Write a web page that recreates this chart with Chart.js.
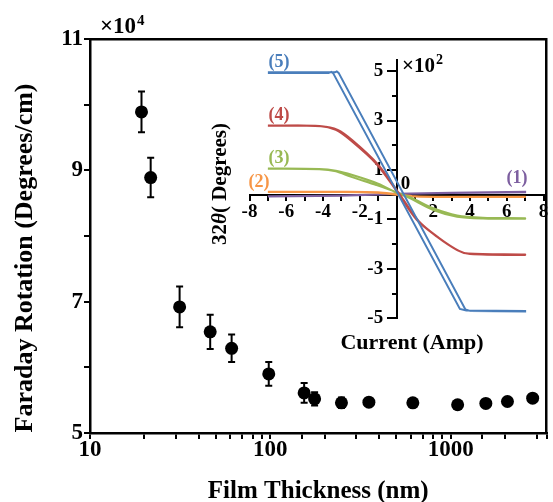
<!DOCTYPE html>
<html><head><meta charset="utf-8">
<script src="https://cdn.jsdelivr.net/npm/chart.js@4.4.1/dist/chart.umd.min.js"></script>
<style>
html,body{margin:0;padding:0;background:#fff;}
#wrap{position:relative;width:553px;height:502px;background:#fff;}
#wrap canvas{position:absolute;left:0;top:0;}
</style></head><body>
<div id="wrap"><canvas id="main" width="553" height="502"></canvas><canvas id="inset" width="553" height="502"></canvas></div>
<script>
// ---------- main plot data (rotation in units of 10^4 deg/cm) ----------
const thickness   = [19.3, 21.7, 31.4, 46.4, 61, 98, 154, 176, 248, 352, 617, 1093, 1567, 2065, 2849];
const rotation    = [9.89, 8.89, 6.92, 6.54, 6.29, 5.90, 5.61, 5.52, 5.46, 5.47, 5.46, 5.43, 5.45, 5.48, 5.53];
const rotationErr = [0.31, 0.30, 0.31, 0.26, 0.21, 0.18, 0.15, 0.10, 0.08, 0.04, 0.04, 0.04, 0.04, 0.04, 0.04];
const mainXLabels = [10, 100, 1000];
const mainYLabels = [5, 7, 9, 11];

// ---------- inset data: current (Amp) vs 2θ (units of 10^2 degrees); each loop = down sweep then return sweep ----------
const loop5Current = [-7, -3.7, -3.55, -3.45, 3.45, 3.8, 7,   7, 4.0, 3.75, -3.15, -3.25, -3.35, -7];
const loop5Angle   = [4.92, 4.92, 4.97, 4.92, -4.62, -4.68, -4.70,   -4.72, -4.70, -4.64, 4.93, 4.99, 4.95, 4.95];
const loop4Current = [-7, -4.2, -3.3, -2.5, -1.1, 0, 1.1, 2.2, 3.3, 3.9, 7,   7, 4.0, 3.4, 2.3, 1.2, 0.1, -1.0, -2.4, -3.2, -4.1, -7];
const loop4Angle   = [2.79, 2.78, 2.62, 2.20, 1.25, 0.15, -1.02, -1.70, -2.24, -2.38, -2.42,   -2.44, -2.40, -2.27, -1.74, -1.06, 0.10, 1.22, 2.20, 2.62, 2.77, 2.80];
const loop3Current = [-7, -4.2, -3.3, -2.5, -1.1, 0, 0.75, 2.0, 3.3, 4.7, 7,   7, 4.7, 3.3, 2.0, 0.8, 0.1, -1.0, -2.4, -3.3, -4.2, -7];
const loop3Angle   = [1.05, 1.03, 0.95, 0.73, 0.39, 0.10, -0.15, -0.62, -0.89, -0.96, -0.97,   -0.95, -0.93, -0.84, -0.55, -0.12, 0.05, 0.45, 0.80, 0.97, 1.04, 1.06];
const loop2Current = [-7, -3, -1, 0, 1, 3, 7,   7, 3, 1, 0, -1, -3, -7];
const loop2Angle   = [0.12, 0.12, 0.10, 0.02, -0.06, -0.08, -0.08,   -0.09, -0.09, -0.07, 0.0, 0.08, 0.11, 0.11];
const loop1Current = [-7, -3, 0, 3, 7,   7, 3, 0, -3, -7];
const loop1Angle   = [-0.06, -0.03, 0.04, 0.08, 0.12,   0.10, 0.07, 0.03, -0.04, -0.07];
const loopNames    = ['(5)', '(4)', '(3)', '(2)', '(1)'];
const insetXLabels = [-8, -6, -4, -2, 2, 4, 6, 8];
const insetYLabels = [-5, -3, -1, 1, 3, 5];

const SERIF = "'Liberation Serif','Times New Roman',serif";
const COLORS = ['#4a7ebb', '#be4b48', '#98b954', '#f79646', '#7d5fa0'];

function pts(xs, ys) { return xs.map((x, i) => ({x: x, y: ys[i]})); }
function isLabel(list, v) { return list.some(t => Math.abs(t - v) < 1e-6 * Math.max(1, Math.abs(t))); }

// ---------- main chart ----------
const errorBars = {
  id: 'errorBars',
  beforeDatasetsDraw(chart) {
    const {ctx, scales: {x, y}} = chart;
    ctx.save();
    ctx.strokeStyle = '#000';
    ctx.lineWidth = 2;
    thickness.forEach((t, i) => {
      const px = x.getPixelForValue(t);
      const top = y.getPixelForValue(rotation[i] + rotationErr[i]);
      const bot = y.getPixelForValue(rotation[i] - rotationErr[i]);
      ctx.beginPath();
      ctx.moveTo(px, top); ctx.lineTo(px, bot);
      ctx.moveTo(px - 3.5, top); ctx.lineTo(px + 3.5, top);
      ctx.moveTo(px - 3.5, bot); ctx.lineTo(px + 3.5, bot);
      ctx.stroke();
    });
    ctx.restore();
  }
};
const mainTexts = {
  id: 'mainTexts',
  afterDraw(chart) {
    const ctx = chart.ctx;
    ctx.save();
    ctx.fillStyle = '#000';
    ctx.translate(25, 258);
    ctx.rotate(-Math.PI / 2);
    ctx.font = 'bold 26px ' + SERIF;
    ctx.textAlign = 'center';
    ctx.textBaseline = 'middle';
    ctx.fillText('Faraday Rotation (Degrees/cm)', 0, 0);
    ctx.restore();
    ctx.save();
    ctx.fillStyle = '#000';
    ctx.textAlign = 'left';
    ctx.textBaseline = 'alphabetic';
    ctx.font = 'bold 23px ' + SERIF;
    ctx.fillText('×10', 100, 33);
    const w = ctx.measureText('×10').width;
    ctx.font = 'bold 15px ' + SERIF;
    ctx.fillText('4', 100 + w + 1, 25);
    ctx.restore();
  }
};

const tickFontMain = {family: SERIF, weight: 'bold', size: 23, lineHeight: 1};
new Chart(document.getElementById('main'), {
  type: 'scatter',
  data: {datasets: [{
    data: pts(thickness, rotation),
    pointRadius: 6.5, pointHoverRadius: 6.5,
    backgroundColor: '#000', borderColor: '#000', borderWidth: 0
  }]},
  options: {
    responsive: false, animation: false, devicePixelRatio: 1,
    layout: {padding: {left: 0, right: 2, top: 39, bottom: 0}},
    plugins: {legend: {display: false}, tooltip: {enabled: false}},
    scales: {
      x: {
        type: 'logarithmic', position: 'bottom', min: 10, max: 3400,
        afterFit(s) { s.height = 69; },
        ticks: {autoSkip: false, maxRotation: 0, padding: 0, color: '#000', font: tickFontMain,
          callback: v => isLabel(mainXLabels, v) ? String(Math.round(v)) : ''},
        grid: {drawOnChartArea: false, tickLength: 6, lineWidth: 2, color: '#000'},
        border: {display: true, width: 2.5, color: '#000'},
        title: {display: true, text: 'Film Thickness (nm)', color: '#000',
          font: {family: SERIF, weight: 'bold', size: 25, lineHeight: 0.84}, padding: 0}
      },
      xTop: {
        type: 'logarithmic', position: 'top', min: 10, max: 3400,
        afterFit(s) { s.height = 0; },
        ticks: {display: false}, grid: {display: false},
        border: {display: true, width: 2.5, color: '#000'}
      },
      y: {
        type: 'linear', position: 'left', min: 5, max: 11,
        afterFit(s) { s.width = 90; },
        ticks: {stepSize: 1, autoSkip: false, padding: 1, color: '#000', font: tickFontMain,
          callback: v => isLabel(mainYLabels, v) ? String(v) : ''},
        grid: {drawOnChartArea: false, tickLength: 6, lineWidth: 2, color: '#000'},
        border: {display: true, width: 2.5, color: '#000'}
      },
      yRight: {
        type: 'linear', position: 'right', min: 5, max: 11,
        afterFit(s) { s.width = 0; },
        ticks: {display: false}, grid: {display: false},
        border: {display: true, width: 2.5, color: '#000'}
      }
    }
  },
  plugins: [errorBars, mainTexts]
});

// ---------- inset chart ----------
const insetTexts = {
  id: 'insetTexts',
  afterDraw(chart) {
    const {ctx, scales: {x, y}} = chart;
    ctx.save();
    ctx.textAlign = 'center';
    ctx.textBaseline = 'middle';
    ctx.font = 'bold 18px ' + SERIF;
    const labelPos = [[279, 62], [279, 115], [279, 158], [259, 182], [517, 178]];
    loopNames.forEach((n, i) => {
      ctx.fillStyle = COLORS[i];
      ctx.fillText(n, labelPos[i][0], labelPos[i][1]);
    });
    ctx.fillStyle = '#000';
    ctx.font = 'bold 19px ' + SERIF;
    ctx.fillText('0', x.getPixelForValue(0) + 9, y.getPixelForValue(0) - 11);
    ctx.font = 'bold 22px ' + SERIF;
    ctx.fillText('Current (Amp)', 412, 343);
    ctx.textAlign = 'left';
    ctx.textBaseline = 'alphabetic';
    ctx.font = 'bold 21px ' + SERIF;
    ctx.fillText('×10', 402, 72);
    const w = ctx.measureText('×10').width;
    ctx.font = 'bold 14px ' + SERIF;
    ctx.fillText('2', 402 + w + 1, 64);
    ctx.translate(221, 184);
    ctx.rotate(-Math.PI / 2);
    ctx.textBaseline = 'middle';
    const parts = [['32', 'bold 21px ' + SERIF], ['θ', 'italic bold 21px ' + SERIF], ['( Degrees)', 'bold 21px ' + SERIF]];
    let total = 0;
    parts.forEach(p => { ctx.font = p[1]; total += ctx.measureText(p[0]).width; });
    let cx = -total / 2;
    parts.forEach(p => { ctx.font = p[1]; ctx.fillText(p[0], cx, 0); cx += ctx.measureText(p[0]).width; });
    ctx.restore();
  }
};

const loops = [
  [loop5Current, loop5Angle, 0],
  [loop4Current, loop4Angle, 0.3],
  [loop3Current, loop3Angle, 0.3],
  [loop2Current, loop2Angle, 0.3],
  [loop1Current, loop1Angle, 0]
];
const tickFontInset = {family: SERIF, weight: 'bold', size: 19, lineHeight: 1};
new Chart(document.getElementById('inset'), {
  type: 'scatter',
  data: {datasets: loops.map((l, i) => ({
    data: pts(l[0], l[1]), showLine: true, pointRadius: 0, pointHoverRadius: 0,
    borderColor: COLORS[i], borderWidth: 2, tension: l[2], fill: false
  }))},
  options: {
    responsive: false, animation: false, devicePixelRatio: 1,
    layout: {padding: {left: 249.5, right: 9.5, top: 60, bottom: 183.7}},
    plugins: {legend: {display: false}, tooltip: {enabled: false}},
    scales: {
      x: {
        type: 'linear', min: -8, max: 8, position: {y: 0},
        afterFit(s) { s.height = 0; },
        ticks: {stepSize: 1, autoSkip: false, maxRotation: 0, padding: 3, color: '#000', font: tickFontInset,
          callback: v => isLabel(insetXLabels, v) ? String(Math.round(v)) : ''},
        grid: {drawOnChartArea: false, tickLength: 5, lineWidth: 2, color: '#000'},
        border: {display: true, width: 2, color: '#000'}
      },
      y: {
        type: 'linear', min: -5, max: 5.45, position: {x: 0},
        afterFit(s) { s.width = 0; },
        afterBuildTicks(s) { s.ticks = s.ticks.filter(t => isLabel(insetYLabels, t.value)); },
        ticks: {stepSize: 1, includeBounds: false, autoSkip: false, color: '#000', font: tickFontInset,
          callback: v => isLabel(insetYLabels, v) ? String(Math.round(v)) + '\u2002\u2009' : ''},
        grid: {drawOnChartArea: false, tickLength: 9, lineWidth: 2, color: '#000'},
        border: {display: true, width: 2, color: '#000'}
      },
      yMinor: {
        type: 'linear', min: -5, max: 5.45, position: {x: 0},
        afterFit(s) { s.width = 0; },
        ticks: {display: false, stepSize: 1, includeBounds: false, autoSkip: false},
        grid: {drawOnChartArea: false, tickLength: 5, lineWidth: 2, color: '#000'},
        border: {display: false}
      }
    }
  },
  plugins: [insetTexts]
});
</script>
</body></html>
